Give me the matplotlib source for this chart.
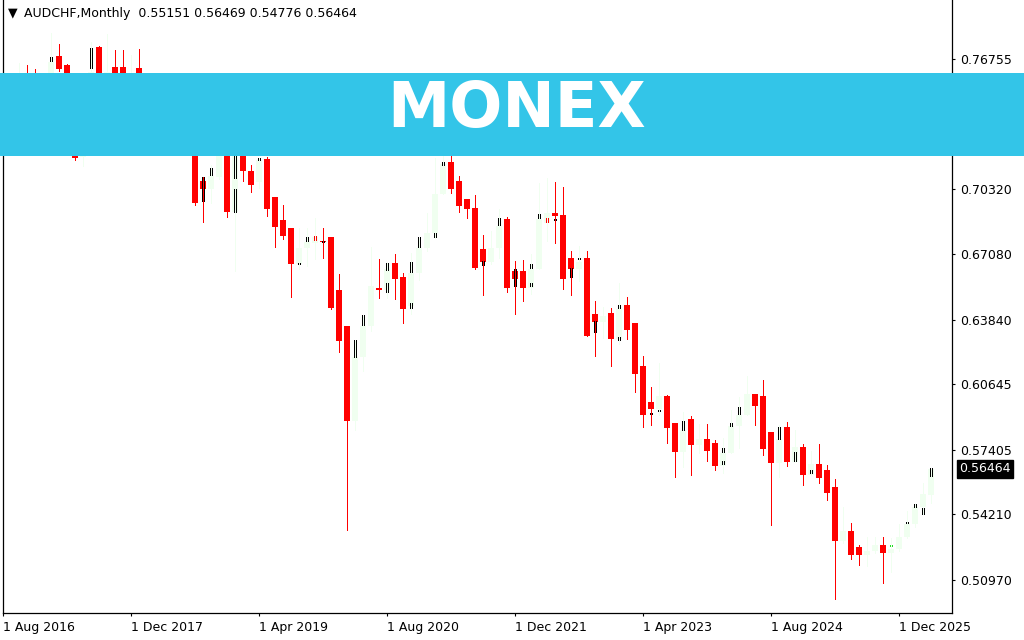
import matplotlib
matplotlib.use("Agg")
import matplotlib.pyplot as plt
import matplotlib.transforms as mtransforms
from matplotlib.patches import Rectangle
import numpy as np

# ---------------- data (AUDCHF monthly, Aug 2016 .. Apr 2026) ----------------
opens = [
    0.7440, 0.7480, 0.7400, 0.7560, 0.7460, 0.7420, 0.7560, 0.7689, 0.7645, 0.7450,
    0.7190, 0.7450, 0.7734, 0.7560, 0.7635, 0.7635, 0.7500, 0.7630, 0.7400, 0.7350,
    0.7300, 0.7480, 0.7450, 0.7320, 0.7300, 0.7071, 0.7032, 0.7091, 0.7250, 0.6918,
    0.7200, 0.7121, 0.7066, 0.7180, 0.6992, 0.6879, 0.6839, 0.6661, 0.6740, 0.6765,
    0.6775, 0.6795, 0.6533, 0.6355, 0.5880, 0.6197, 0.6355, 0.6543, 0.6533, 0.6666,
    0.6597, 0.6454, 0.6617, 0.6740, 0.6814, 0.7007, 0.7165, 0.7071, 0.6982, 0.6938,
    0.6735, 0.6671, 0.6740, 0.6884, 0.6627, 0.6627, 0.6543, 0.6636, 0.6864, 0.6913,
    0.6903, 0.6691, 0.6636, 0.6691, 0.6414, 0.6374, 0.6419, 0.6290, 0.6458, 0.6370,
    0.6157, 0.5974, 0.5940, 0.6004, 0.5870, 0.5727, 0.5890, 0.5762, 0.5791, 0.5772,
    0.5658, 0.5722, 0.5856, 0.5910, 0.6014, 0.6004, 0.5826, 0.5673, 0.5851, 0.5678,
    0.5752, 0.5613, 0.5668, 0.5638, 0.5554, 0.5287, 0.5337, 0.5258, 0.5218, 0.5238,
    0.5267, 0.5228, 0.5248, 0.5307, 0.5371, 0.5455, 0.55151,
]
highs = [
    0.7560, 0.7580, 0.7654, 0.7645, 0.7625, 0.7590, 0.7803, 0.7748, 0.7650, 0.7550,
    0.7580, 0.7758, 0.7740, 0.7798, 0.7719, 0.7719, 0.7694, 0.7724, 0.7500, 0.7450,
    0.7520, 0.7550, 0.7500, 0.7400, 0.7350, 0.7091, 0.7150, 0.7300, 0.7290, 0.7230,
    0.7240, 0.7150, 0.7185, 0.7190, 0.6992, 0.6953, 0.6839, 0.6839, 0.6839, 0.6888,
    0.6839, 0.6795, 0.6612, 0.6355, 0.6281, 0.6404, 0.6745, 0.6686, 0.6666, 0.6711,
    0.6617, 0.6716, 0.6790, 0.6913, 0.7185, 0.7250, 0.7250, 0.7096, 0.6982, 0.7002,
    0.6804, 0.6824, 0.6933, 0.6894, 0.6676, 0.6681, 0.6711, 0.7061, 0.7086, 0.7066,
    0.7042, 0.6725, 0.6750, 0.6725, 0.6478, 0.6449, 0.6444, 0.6567, 0.6498, 0.6370,
    0.6202, 0.6053, 0.6172, 0.6009, 0.5870, 0.5925, 0.5905, 0.5866, 0.5866, 0.5786,
    0.5796, 0.5935, 0.5999, 0.6103, 0.6014, 0.6083, 0.5826, 0.5861, 0.5875, 0.5836,
    0.5767, 0.5732, 0.5767, 0.5663, 0.5594, 0.5455, 0.5376, 0.5267, 0.5307, 0.5307,
    0.5307, 0.5302, 0.5371, 0.5436, 0.5470, 0.5574, 0.56469,
]
lows = [
    0.7320, 0.7350, 0.7330, 0.7380, 0.7300, 0.7380, 0.7500, 0.7615, 0.7400, 0.7175,
    0.7145, 0.7400, 0.7480, 0.7500, 0.7400, 0.7450, 0.7450, 0.7350, 0.7300, 0.7250,
    0.7280, 0.7380, 0.7280, 0.7250, 0.6953, 0.6869, 0.6963, 0.7080, 0.6893, 0.6627,
    0.7071, 0.7017, 0.7037, 0.6898, 0.6745, 0.6785, 0.6498, 0.6636, 0.6651, 0.6686,
    0.6691, 0.6439, 0.6226, 0.5342, 0.5836, 0.6132, 0.6330, 0.6493, 0.6493, 0.6488,
    0.6370, 0.6414, 0.6582, 0.6725, 0.6790, 0.7007, 0.7012, 0.6918, 0.6888, 0.6636,
    0.6508, 0.6661, 0.6691, 0.6523, 0.6414, 0.6478, 0.6513, 0.6636, 0.6775, 0.6765,
    0.6538, 0.6508, 0.6577, 0.6305, 0.6206, 0.6295, 0.6157, 0.6266, 0.6286, 0.6024,
    0.5851, 0.5861, 0.5910, 0.5772, 0.5604, 0.5653, 0.5613, 0.5722, 0.5683, 0.5638,
    0.5623, 0.5722, 0.5747, 0.5910, 0.5861, 0.5712, 0.5366, 0.5604, 0.5658, 0.5678,
    0.5564, 0.5613, 0.5574, 0.5490, 0.5001, 0.5277, 0.5198, 0.5169, 0.5164, 0.5228,
    0.5080, 0.5134, 0.5238, 0.5302, 0.5356, 0.5421, 0.54776,
]
closes = [
    0.7480, 0.7400, 0.7560, 0.7460, 0.7420, 0.7560, 0.7659, 0.7625, 0.7450, 0.7185,
    0.7450, 0.7610, 0.7560, 0.7610, 0.7600, 0.7500, 0.7580, 0.7400, 0.7350, 0.7300,
    0.7480, 0.7450, 0.7320, 0.7300, 0.6963, 0.7032, 0.7096, 0.7250, 0.6918, 0.7200,
    0.7121, 0.7052, 0.7175, 0.6933, 0.6844, 0.6800, 0.6661, 0.6740, 0.6770, 0.6795,
    0.6767, 0.6444, 0.6281, 0.5880, 0.6197, 0.6355, 0.6552, 0.6533, 0.6636, 0.6587,
    0.6439, 0.6617, 0.6740, 0.6814, 0.7007, 0.7155, 0.7032, 0.6948, 0.6933, 0.6641,
    0.6671, 0.6740, 0.6849, 0.6543, 0.6587, 0.6543, 0.6636, 0.6884, 0.6913, 0.6898,
    0.6587, 0.6636, 0.6671, 0.6305, 0.6374, 0.6404, 0.6290, 0.6439, 0.6335, 0.6113,
    0.5910, 0.5940, 0.6004, 0.5846, 0.5727, 0.5836, 0.5762, 0.5791, 0.5732, 0.5658,
    0.5722, 0.5856, 0.5910, 0.6014, 0.5959, 0.5742, 0.5673, 0.5791, 0.5678, 0.5752,
    0.5613, 0.5668, 0.5599, 0.5524, 0.5287, 0.5337, 0.5218, 0.5218, 0.5238, 0.5267,
    0.5228, 0.5248, 0.5307, 0.5371, 0.5455, 0.5520, 0.56464,
]

# partial body-outline marks visible on some candles: candle index, top, bottom, colour
mark_idx = [6, 11, 25, 26, 29, 29, 32, 37, 38, 39, 40, 44, 45, 48, 48, 51, 51, 52,
            54, 55, 60, 62, 64, 66, 66, 67, 68, 69, 71, 72, 74, 77, 77, 81, 82, 85,
            90, 90, 91, 92, 97, 99, 101, 111, 113, 114, 115, 116]
mark_top = [0.7685, 0.7730, 0.7091, 0.7136, 0.7200, 0.7031, 0.7185, 0.6666, 0.6794, 0.6799,
            0.6776, 0.6283, 0.6407, 0.6665, 0.6566, 0.6670, 0.6467, 0.6794,
            0.6814, 0.7165, 0.6675, 0.6888, 0.6635, 0.6660, 0.6566, 0.6908, 0.6888, 0.6884,
            0.6640, 0.6691, 0.6378, 0.6457, 0.6298, 0.5923, 0.5938, 0.5882,
            0.5748, 0.5684, 0.5872, 0.5952, 0.5852, 0.5728, 0.5640, 0.5269, 0.5383,
            0.5471, 0.5451, 0.5649]
mark_bot = [0.7666, 0.7631, 0.6972, 0.7101, 0.7086, 0.6917, 0.7176, 0.6659, 0.6774, 0.6779,
            0.6769, 0.6199, 0.6358, 0.6630, 0.6521, 0.6620, 0.6442, 0.6744,
            0.6794, 0.7150, 0.6655, 0.6853, 0.6551, 0.6640, 0.6551, 0.6888, 0.6868, 0.6878,
            0.6596, 0.6684, 0.6323, 0.6442, 0.6283, 0.5916, 0.5931, 0.5838,
            0.5728, 0.5669, 0.5857, 0.5917, 0.5793, 0.5684, 0.5625, 0.5262, 0.5376,
            0.5456, 0.5421, 0.5610]
mark_col = ["k", "k", "k", "k", "k", "k", "k", "k", "k", "r", "k", "k", "k", "k", "k", "k",
            "k", "k", "k", "k", "k", "k", "k", "k", "k", "k", "r", "k", "k", "k", "k", "k",
            "k", "k", "k", "k", "k", "k", "k", "k", "k", "k", "k", "g", "k", "k", "k", "k"]

price_ticks = [0.50970, 0.54210, 0.57405, 0.60645, 0.63840, 0.67080, 0.70320, 0.73540, 0.76755]
date_tick_idx = [0, 16, 32, 48, 64, 80, 96, 112]
date_tick_labels = ["1 Aug 2016", "1 Dec 2017", "1 Apr 2019", "1 Aug 2020",
                    "1 Dec 2021", "1 Apr 2023", "1 Aug 2024", "1 Dec 2025"]
symbol = "AUDCHF,Monthly"
last_price = closes[-1]

# ---------------- figure ----------------
W, H = 1024, 640
PX = 72 / 100  # one pixel in points
fig = plt.figure(figsize=(W / 100, H / 100), dpi=100)
fig.patch.set_facecolor("white")
ax = fig.add_axes([3 / W, (H - 613) / H, 949 / W, 613 / H])
ax.set_facecolor("white")

o = np.array(opens); h = np.array(highs); l = np.array(lows); c = np.array(closes)
x = np.arange(len(o))
up = c >= o
bear_col = "#FF0000"
bull_col = "#F0FFF0"
cols = np.where(up, bull_col, bear_col)

ax.vlines(x, l, h, colors=cols, linewidth=PX, zorder=2, antialiased=False)
body_bottom = np.minimum(o, c)
body_h = np.maximum(np.abs(c - o), 0.0004)
ax.bar(x, body_h, bottom=body_bottom, width=0.66, color=cols, linewidth=0, zorder=3)

cmap = {"k": "black", "r": "#FF0000", "g": "#22DD22"}
mi = np.array(mark_idx, dtype=float)
mcols = [cmap[m] for m in mark_col]
for dx in (-0.13, 0.12):
    ax.vlines(mi + dx, mark_bot, mark_top, colors=mcols, linewidth=PX, zorder=4,
              antialiased=False)

ax.set_xlim(0, 949 / 8)
ax.set_ylim(0.49311, 0.79678)

ax.spines["top"].set_visible(False)
for s in ["left", "right", "bottom"]:
    ax.spines[s].set_color("black")
    ax.spines[s].set_linewidth(0.9)

ax.yaxis.tick_right()
ax.set_yticks(price_ticks)
ax.set_yticklabels([f"{v:.5f}" for v in price_ticks])
ax.tick_params(axis="y", direction="out", length=2.5, width=0.8, pad=3,
               labelsize=9, colors="black")
ax.set_xticks(date_tick_idx)
ax.set_xticklabels(date_tick_labels, ha="left")
ax.tick_params(axis="x", direction="out", length=2.5, width=0.8, pad=3,
               labelsize=9, colors="black")

# header
fig.text(8 / W, 1 - 13 / H, "\u25BC", fontsize=9, va="center", ha="left", color="black")
fig.text(24 / W, 1 - 13 / H,
         f"{symbol}  {opens[-1]:.5f} {highs[-1]:.5f} {lows[-1]:.5f} {closes[-1]:.5f}",
         fontsize=9, va="center", ha="left", color="black")

# current price label
trans = mtransforms.blended_transform_factory(fig.transFigure, ax.transData)
fig.text(959 / W, last_price, f"{last_price:.5f}", transform=trans, fontsize=9,
         color="white", va="center", ha="left",
         bbox=dict(boxstyle="square,pad=0.2", facecolor="black", edgecolor="black"))

# banner
fig.patches.append(Rectangle((0, 1 - 155.5 / H), 1, 83 / H, transform=fig.transFigure,
                             facecolor="#33C5E8", edgecolor="none", zorder=20))
fig.text(517 / W, 1 - 110 / H, "MONEX", fontsize=45, fontweight="bold", color="white",
         ha="center", va="center", zorder=21, family="DejaVu Sans")

fig.savefig("out.png", dpi=100, facecolor="white")
